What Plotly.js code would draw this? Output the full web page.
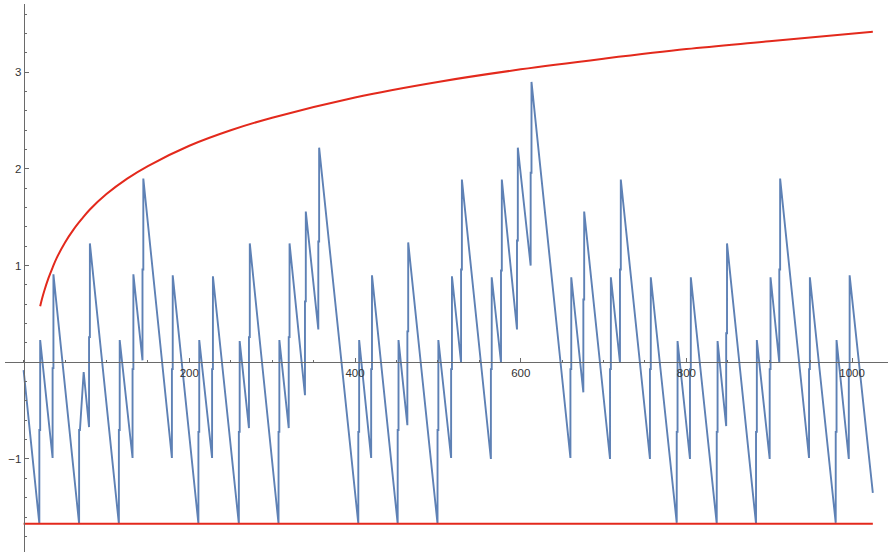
<!DOCTYPE html>
<html>
<head>
<meta charset="utf-8">
<script src="https://cdn.plot.ly/plotly-3.0.1.min.js"></script>
<style>html,body{margin:0;padding:0;background:#fff}#chart{width:888px;height:552px}</style>
</head>
<body>
<div id="chart"></div>
<script>
// Sawtooth series
const sawStart = [0, -0.08];
const sawEnd = [1025, -1.35];
const jumpX   = [19, 35, 67, 79, 115, 131.5, 143.5, 179, 211, 227.5, 259.8, 272, 307.7, 320, 339.6, 355.7, 404, 419.5, 451.5, 463.2, 499.6, 516, 528, 564, 576.2, 595.5, 612, 660, 675.6, 707.8, 719.8, 756, 788.3, 804.3, 836.6, 848, 884, 900.5, 912.1, 948, 980.2, 996];
const jumpLow = [-1.67, -0.99, -1.67, -0.67, -1.67, -0.99, 0.02, -0.99, -1.67, -0.99, -1.67, -0.68, -1.67, -0.68, -0.34, 0.34, -1.67, -0.99, -1.67, -0.65, -1.67, -0.99, 0.0, -1.0, 0.0, 0.34, 1.0, -0.99, -0.31, -1.0, 0.0, -1.0, -1.66, -1.0, -1.67, -0.66, -1.67, -1.0, 0.0, -0.99, -1.66, -1.0];
const jumpMid = [-0.70, -0.06, -0.70, 0.26, -0.70, -0.07, 0.96, -0.07, -0.72, -0.07, -0.72, 0.26, -0.72, 0.26, 0.63, 1.25, -0.72, -0.07, -0.70, 0.32, -0.70, -0.07, 0.96, -0.07, 0.95, 1.26, 1.96, -0.07, 0.65, -0.07, 0.96, -0.07, -0.72, -0.07, -0.72, 0.30, -0.72, -0.07, 0.96, -0.07, -0.72, -0.07];
const jumpTop = [0.23, 0.91, -0.70, 1.23, 0.23, 0.91, 1.90, 0.90, 0.23, 0.89, 0.22, 1.23, 0.23, 1.23, 1.56, 2.22, 0.23, 0.90, 0.23, 1.24, 0.23, 0.89, 1.89, 0.88, 1.89, 2.22, 2.90, 0.88, 1.56, 0.88, 1.89, 0.88, 0.22, 0.88, 0.22, 1.23, 0.23, 0.88, 1.90, 0.88, 0.23, 0.90];
const bendX = [72.5];
const bendY = [-0.10];

// Upper envelope curve and lower bound line
const redX = [20, 22, 25, 30, 35, 40, 50, 60, 70, 80, 100, 125, 150, 200, 250, 300, 400, 500, 600, 700, 800, 900, 1025];
const redY = [0.58, 0.65, 0.74, 0.87, 0.98, 1.08, 1.24, 1.37, 1.48, 1.58, 1.74, 1.90, 2.03, 2.24, 2.40, 2.53, 2.74, 2.90, 3.03, 3.14, 3.24, 3.32, 3.42];
const floorX = [0, 1025];
const floorY = [-1.67, -1.67];

// Ticks
const xTickVals = [200, 400, 600, 800, 1000];
const xTickText = ['200', '400', '600', '800', '1000'];
const yTickVals = [-1, 1, 2, 3];
const yTickText = ['\u22121', '1', '2', '3'];

// build sawtooth path
let pts = [sawStart.slice()];
for (let i = 0; i < jumpX.length; i++) {
  pts.push([jumpX[i], jumpLow[i]]);
  pts.push([jumpX[i], jumpMid[i]]);
  pts.push([jumpX[i] + 1, jumpMid[i]]);
  pts.push([jumpX[i] + 1, jumpTop[i]]);
}
for (let i = 0; i < bendX.length; i++) pts.push([bendX[i], bendY[i]]);
pts.push(sawEnd.slice());
pts = pts.map((p, i) => [p[0], p[1], i]).sort((a, b) => a[0] - b[0] || a[2] - b[2]);

const xr = [-22.45, 1043.3];
const yr = [-1.962, 3.706];
const axisCol = '#6a6a6a';
const font = {family: 'Liberation Sans, Arial, sans-serif', size: 11.5, color: '#333'};

const traces = [
  {x: pts.map(p => p[0]), y: pts.map(p => p[1]), mode: 'lines', line: {color: '#5e81b5', width: 1.9}, hoverinfo: 'skip'},
  {x: redX, y: redY, mode: 'lines', line: {color: '#e3291c', width: 2, shape: 'spline'}, hoverinfo: 'skip'},
  {x: floorX, y: floorY, mode: 'lines', line: {color: '#e3291c', width: 2.2}, hoverinfo: 'skip'}
];

const layout = {
  width: 888, height: 552,
  margin: {l: 5, r: 0, t: 4, b: 0},
  paper_bgcolor: '#fff', plot_bgcolor: '#fff',
  showlegend: false,
  font: font,
  xaxis: {
    range: xr, anchor: 'free', position: (0 - yr[0]) / (yr[1] - yr[0]),
    showgrid: false, zeroline: false, showline: true, linecolor: axisCol, linewidth: 1,
    tickmode: 'array', tickvals: xTickVals, ticktext: xTickText,
    ticks: 'inside', ticklen: 4, tickcolor: axisCol, tickwidth: 1,
    minor: {tickmode: 'linear', tick0: 0, dtick: 50, ticks: 'inside', ticklen: 2.5, tickcolor: axisCol, showgrid: false},
    tickfont: font, automargin: false, fixedrange: true
  },
  yaxis: {
    range: yr, anchor: 'free', position: (0 - xr[0]) / (xr[1] - xr[0]),
    showgrid: false, zeroline: false, showline: true, linecolor: axisCol, linewidth: 1,
    tickmode: 'array', tickvals: yTickVals, ticktext: yTickText,
    ticks: 'inside', ticklen: 4, tickcolor: axisCol, tickwidth: 1,
    minor: {tickmode: 'linear', tick0: 0, dtick: 0.2, ticks: 'inside', ticklen: 2.5, tickcolor: axisCol, showgrid: false},
    tickfont: font, automargin: false, fixedrange: true
  }
};

Plotly.newPlot('chart', traces, layout, {staticPlot: true, displayModeBar: false});
</script>
</body>
</html>
